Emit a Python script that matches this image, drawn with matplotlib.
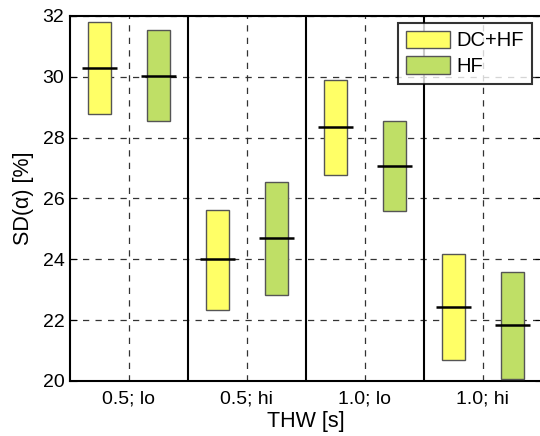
import matplotlib
matplotlib.use("Agg")
import matplotlib.pyplot as plt
import numpy as np

plt.rcParams['font.family'] = ['Liberation Sans', 'DejaVu Sans']

categories = ["0.5; lo", "0.5; hi", "1.0; lo", "1.0; hi"]
series = ["DC+HF", "HF"]
lower = {"DC+HF": [28.77, 22.33, 26.77, 20.68], "HF": [28.55, 22.82, 25.59, 20.08]}
upper = {"DC+HF": [31.79, 25.61, 29.89, 24.16], "HF": [31.55, 26.55, 28.54, 23.58]}
median = {"DC+HF": [30.30, 24.00, 28.34, 22.44], "HF": [30.04, 24.69, 27.06, 21.83]}
colors = {"DC+HF": "#ffff66", "HF": "#bfdf66"}
offsets = {"DC+HF": -0.25, "HF": 0.25}
yticks = [20, 22, 24, 26, 28, 30, 32]

fig = plt.figure(figsize=(5.4, 4.36), dpi=100)
ax = fig.add_axes([70/540, 55/436, 472/540, 365/436])

x = np.arange(1, len(categories) + 1)
for s in series:
    lo = np.array(lower[s]); hi = np.array(upper[s])
    ax.bar(x + offsets[s], hi - lo, bottom=lo, width=0.19, color=colors[s],
           edgecolor="#555555", linewidth=1.0, label=s, zorder=3)
    ax.hlines(median[s], x + offsets[s] - 0.15, x + offsets[s] + 0.15,
              colors="black", linewidth=1.8, zorder=4)

for b in x[:-1] + 0.5:
    ax.axvline(b, color="black", linewidth=1.5, zorder=2)

ax.set_xlim(0.5, 4.5)
ax.set_ylim(20, 32)
ax.set_xticks(x)
ax.set_xticklabels(categories)
ax.set_yticks(yticks)
ax.grid(True, linestyle=(0, (5, 5)), color="#333333", linewidth=0.9, zorder=1)
ax.tick_params(direction="in", labelsize=14, length=5, right=True, top=False, pad=4)
ax.tick_params(axis="x", length=0, pad=7)
for sp in ax.spines.values():
    sp.set_linewidth(1.5)
ax.set_xlabel("THW [s]", fontsize=15.5, labelpad=2)
ax.set_ylabel("SD(α) [%]", fontsize=15.5, labelpad=6)

leg = ax.legend(loc="upper right", bbox_to_anchor=(529/542 + 0.002, 1 - 7/365), fontsize=14.5,
                frameon=True, fancybox=False, edgecolor="black", handlelength=2.2,
                handleheight=0.95, borderpad=0.38, labelspacing=0.3, handletextpad=0.3,
                borderaxespad=0)
leg.get_frame().set_linewidth(1.5)

fig.savefig("out.png", dpi=100)
